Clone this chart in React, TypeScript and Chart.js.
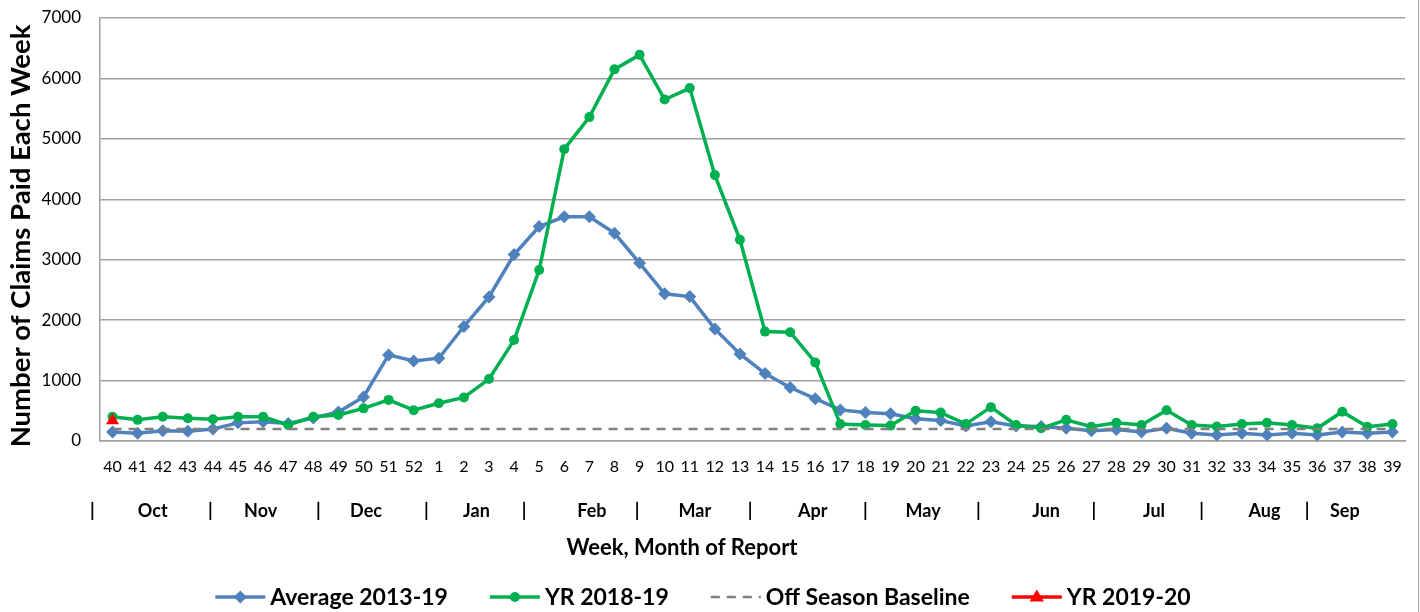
import React, { useEffect, useRef } from "react";
import { Chart, registerables } from "chart.js";

Chart.register(...registerables);

const WEEKS = [
  "40", "41", "42", "43", "44", "45", "46", "47", "48", "49", "50", "51", "52",
  "1", "2", "3", "4", "5", "6", "7", "8", "9", "10", "11", "12", "13", "14",
  "15", "16", "17", "18", "19", "20", "21", "22", "23", "24", "25", "26", "27",
  "28", "29", "30", "31", "32", "33", "34", "35", "36", "37", "38", "39",
];

const AVERAGE_2013_19 = [
  150, 130, 170, 160, 200, 300, 320, 290, 380, 480, 730, 1425, 1325,
  1370, 1895, 2385, 3085, 3550, 3710, 3710, 3440, 2945, 2435, 2390, 1855, 1440, 1115,
  885, 700, 515, 470, 450, 370, 340, 250, 320, 250, 240, 210, 170,
  190, 150, 210, 130, 100, 130, 100, 130, 100, 150, 130, 150,
];

const YR_2018_19 = [
  400, 350, 400, 375, 360, 400, 400, 265, 400, 430, 540, 680, 510,
  625, 720, 1025, 1670, 2830, 4830, 5360, 6150, 6390, 5650, 5840, 4400, 3330, 1810,
  1800, 1300, 280, 265, 255, 500, 470, 280, 560, 265, 210, 350, 235,
  300, 265, 510, 265, 240, 280, 300, 265, 210, 485, 235, 280,
];

const OFF_SEASON_BASELINE = [
  200, 200, 200, 200, 200, 200, 200, 200, 200, 200, 200, 200, 200,
  200, 200, 200, 200, 200, 200, 200, 200, 200, 200, 200, 200, 200, 200,
  200, 200, 200, 200, 200, 200, 200, 200, 200, 200, 200, 200, 200,
  200, 200, 200, 200, 200, 200, 200, 200, 200, 200, 200, 200,
];

const YR_2019_20: (number | null)[] = [
  340, null, null, null, null, null, null, null, null, null, null, null, null,
  null, null, null, null, null, null, null, null, null, null, null, null, null, null,
  null, null, null, null, null, null, null, null, null, null, null, null, null,
  null, null, null, null, null, null, null, null, null, null, null, null,
];

const MONTHS = ["Oct", "Nov", "Dec", "Jan", "Feb", "Mar", "Apr", "May", "Jun", "Jul", "Aug", "Sep"];

const Y_TITLE = "Number of Claims Paid Each Week";
const X_TITLE = "Week, Month of Report";

// layout (category-index positions of month labels and separators)
const MONTH_POS = [1.6, 5.9, 10.1, 14.5, 19.1, 23.2, 27.9, 32.3, 37.2, 41.5, 45.9, 49.1];
const PIPE_POS = [-0.8, 3.9, 8.2, 12.5, 16.4, 20.9, 25.4, 30.0, 34.5, 39.1, 43.4, 47.6];

const FONT = "Lato, 'Open Sans', sans-serif";

function drawMarker(ctx: CanvasRenderingContext2D, style: string, x: number, y: number, r: number, color: string) {
  ctx.save();
  ctx.fillStyle = color;
  ctx.beginPath();
  if (style === "rectRot") {
    ctx.moveTo(x, y - r);
    ctx.lineTo(x + r, y);
    ctx.lineTo(x, y + r);
    ctx.lineTo(x - r, y);
    ctx.closePath();
  } else if (style === "triangle") {
    ctx.moveTo(x, y - r);
    ctx.lineTo(x + r * 0.95, y + r * 0.6);
    ctx.lineTo(x - r * 0.95, y + r * 0.6);
    ctx.closePath();
  } else if (style === "circle") {
    ctx.arc(x, y, r, 0, Math.PI * 2);
  }
  if (style !== "none") ctx.fill();
  ctx.restore();
}

const extrasPlugin = {
  id: "extras",
  afterDraw(chart: any) {
    const ctx: CanvasRenderingContext2D = chart.ctx;
    const xs = chart.scales.x;
    const p0 = xs.getPixelForValue(0);
    const step = xs.getPixelForValue(1) - p0;
    const at = (i: number) => p0 + i * step;
    ctx.save();
    ctx.fillStyle = "#000";
    ctx.textAlign = "center";
    ctx.textBaseline = "middle";

    // y axis title
    ctx.save();
    ctx.translate(21, 236);
    ctx.rotate(-Math.PI / 2);
    ctx.font = `bold 27.5px ${FONT}`;
    ctx.fillText(Y_TITLE, 0, 0);
    ctx.restore();

    ctx.font = `bold 18px ${FONT}`;
    PIPE_POS.forEach((i) => ctx.fillText("|", at(i), 511));
    MONTHS.forEach((m, k) => ctx.fillText(m, at(MONTH_POS[k]), 511));

    ctx.font = `bold 22px ${FONT}`;
    ctx.fillText(X_TITLE, 682, 548);

    // legend
    ctx.font = `bold 23px ${FONT}`;
    const sampleW = 50;
    const textGap = 5;
    const itemGap = 42;
    const items = chart.data.datasets.map((d: any) => ({
      label: d.label,
      color: d.borderColor,
      dash: d.borderDash || [],
      width: d.borderWidth,
      style: d.pointStyle,
      r: d.legendMarker,
      tw: ctx.measureText(d.label).width,
    }));
    const total = items.reduce((s: number, it: any) => s + sampleW + textGap + it.tw, 0) + itemGap * (items.length - 1);
    let x = 703 - total / 2;
    const ly = 597;
    items.forEach((it: any) => {
      ctx.save();
      ctx.strokeStyle = it.color;
      ctx.lineWidth = it.width;
      ctx.setLineDash(it.dash);
      ctx.beginPath();
      ctx.moveTo(x, ly);
      ctx.lineTo(x + sampleW, ly);
      ctx.stroke();
      ctx.restore();
      drawMarker(ctx, it.style, x + sampleW / 2, ly, it.r, it.color);
      ctx.fillStyle = "#000";
      ctx.textAlign = "left";
      ctx.fillText(it.label, x + sampleW + textGap, ly + 1);
      x += sampleW + textGap + it.tw + itemGap;
    });

    // chart border on the right
    ctx.strokeStyle = "#a6a6a6";
    ctx.lineWidth = 1;
    ctx.beginPath();
    ctx.moveTo(1418.5, 0);
    ctx.lineTo(1418.5, 612);
    ctx.stroke();
    ctx.restore();
  },
};

export default function App() {
  const ref = useRef<HTMLCanvasElement>(null);
  useEffect(() => {
    if (!ref.current) return;
    const chart = new Chart(ref.current, {
      type: "line",
      data: {
        labels: WEEKS,
        datasets: [
          {
            label: "Average 2013-19",
            data: AVERAGE_2013_19,
            borderColor: "#4F81BD",
            backgroundColor: "#4F81BD",
            borderWidth: 3.5,
            pointStyle: "rectRot",
            pointRadius: 6.5,
            pointBorderWidth: 0,
            legendMarker: 6.5,
            order: 3,
          } as any,
          {
            label: "YR 2018-19",
            data: YR_2018_19,
            borderColor: "#00B050",
            backgroundColor: "#00B050",
            borderWidth: 3.5,
            pointStyle: "circle",
            pointRadius: 5,
            pointBorderWidth: 0,
            legendMarker: 5,
            order: 2,
          } as any,
          {
            label: "Off Season Baseline",
            data: OFF_SEASON_BASELINE,
            borderColor: "#808080",
            backgroundColor: "#808080",
            borderWidth: 2.5,
            borderDash: [9, 7],
            pointStyle: "none",
            pointRadius: 0,
            legendMarker: 0,
            order: 1,
          } as any,
          {
            label: "YR 2019-20",
            data: YR_2019_20,
            borderColor: "#FF0000",
            backgroundColor: "#FF0000",
            borderWidth: 3.5,
            pointStyle: "triangle",
            pointRadius: 7.5,
            pointBorderWidth: 0,
            legendMarker: 7.5,
            order: 0,
          } as any,
        ],
      },
      options: {
        animation: false,
        responsive: false,
        maintainAspectRatio: false,
        layout: { padding: { top: 18, right: 15, bottom: 0, left: 0 } },
        plugins: { legend: { display: false }, tooltip: { enabled: false } },
        elements: { line: { tension: 0 } },
        scales: {
          x: {
            offset: true,
            grid: { display: false, drawTicks: false },
            border: { display: true, color: "#a0a0a0", width: 1.5 },
            ticks: {
              autoSkip: false,
              maxRotation: 0,
              minRotation: 0,
              padding: 16,
              color: "#000",
              font: { family: FONT, size: 16 },
            },
            afterFit: (s: any) => {
              s.height = 171;
            },
          },
          y: {
            min: 0,
            max: 7000,
            ticks: {
              stepSize: 1000,
              padding: 3,
              color: "#000",
              font: { family: FONT, size: 17 },
              callback: (v: any) => String(v),
            },
            grid: { color: "#a0a0a0", lineWidth: 1.5, drawTicks: true, tickLength: 16, tickColor: "rgba(0,0,0,0)" },
            border: { display: true, color: "#a0a0a0", width: 1.5 },
            title: { display: false },
            afterFit: (s: any) => {
              s.width = 100;
            },
          },
        },
      },
      plugins: [extrasPlugin],
    });
    return () => chart.destroy();
  }, []);
  return (
    <div style={{ position: "absolute", left: 0, top: 0, width: 1420, height: 612 }}>
      <canvas ref={ref} width={1420} height={612} style={{ display: "block", width: 1420, height: 612 }} />
    </div>
  );
}
